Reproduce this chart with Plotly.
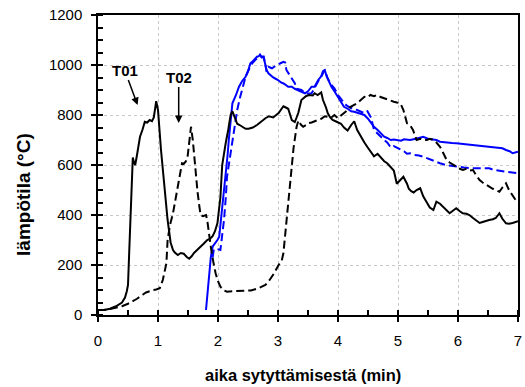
import plotly.graph_objects as go

# ---- data ----
t01_t = [0, 0.1, 0.2, 0.3, 0.4, 0.45, 0.48, 0.5, 0.52, 0.55, 0.58, 0.6, 0.62, 0.65, 0.7, 0.74, 0.78, 0.82, 0.86, 0.9,
         0.93, 0.97, 1.0, 1.05, 1.11, 1.16, 1.21, 1.25, 1.28, 1.33, 1.38, 1.43, 1.48, 1.52, 1.56, 1.6, 1.66, 1.71, 1.76,
         1.82, 1.87, 1.91, 1.95, 1.99, 2.02, 2.04, 2.07, 2.1, 2.13, 2.17, 2.21, 2.24, 2.28, 2.32, 2.36, 2.41, 2.46, 2.51,
         2.58, 2.65, 2.72, 2.79, 2.85, 2.92, 3.01, 3.05, 3.09, 3.13, 3.17, 3.23, 3.28, 3.31, 3.34, 3.39, 3.43, 3.47, 3.52,
         3.58, 3.61, 3.66, 3.72, 3.75, 3.8, 3.83, 3.87, 3.91, 3.96, 4.05, 4.1, 4.16, 4.22, 4.27, 4.32, 4.38, 4.44, 4.49,
         4.55, 4.6, 4.66, 4.71, 4.77, 4.82, 4.88, 4.93, 4.98, 5.04, 5.09, 5.15, 5.18, 5.22, 5.26, 5.31, 5.37, 5.42, 5.48,
         5.53, 5.59, 5.64, 5.7, 5.75, 5.8, 5.86, 5.92, 5.97, 6.03, 6.08, 6.14, 6.19, 6.25, 6.3, 6.36, 6.41, 6.47, 6.52,
         6.58, 6.63, 6.69, 6.74, 6.8, 6.85, 6.91, 6.96, 7.0]
t01_T = [20, 20, 25, 35, 50, 70, 95, 120, 250, 480, 630, 610, 600, 640, 713, 740, 773, 770, 780, 775,
         790, 855, 820, 660, 500, 380, 290, 260, 250, 240, 248, 245, 232, 225, 235, 248, 262, 272, 285,
         300, 305, 315, 335, 367, 420, 470, 600, 650, 690, 740, 800, 815, 790, 765, 760, 752, 745, 745,
         750, 760, 775, 787, 795, 790, 808, 820, 835, 830, 825, 780, 772, 790, 810, 860, 870, 876, 880,
         878, 887, 880, 890, 860, 830, 807, 790, 780, 775, 765, 750, 738, 760, 775, 740, 712, 690, 672,
         650, 635, 645, 630, 615, 607, 590, 578, 525, 540, 553, 525, 505, 495, 490, 500, 507, 475, 447,
         430, 420, 453, 445, 433, 420, 407, 418, 427, 415, 407, 405, 400, 388, 378, 368, 372, 378, 380,
         383, 388, 407, 385, 367, 365, 368, 372, 375]

t02_t = [0, 0.1, 0.2, 0.3, 0.4, 0.5, 0.55, 0.6, 0.65, 0.7, 0.75, 0.8, 0.85, 0.92, 0.97, 1.03, 1.08, 1.11, 1.14, 1.16,
         1.2, 1.25, 1.29, 1.33, 1.37, 1.4, 1.43, 1.46, 1.49, 1.52, 1.55, 1.58, 1.61, 1.63, 1.66, 1.69, 1.71, 1.75,
         1.8, 1.82, 1.85, 1.88, 1.92, 1.96, 2.0, 2.04, 2.1, 2.15, 2.25, 2.35, 2.45, 2.55, 2.65, 2.72, 2.79, 2.86,
         2.93, 3.01, 3.06, 3.09, 3.12, 3.14, 3.18, 3.22, 3.26, 3.31, 3.34, 3.38, 3.42, 3.47, 3.5, 3.56, 3.61, 3.67,
         3.72, 3.78, 3.83, 3.89, 3.94, 4.0, 4.05, 4.1, 4.16, 4.21, 4.27, 4.32, 4.38, 4.44, 4.49, 4.54, 4.6, 4.65,
         4.71, 4.77, 4.82, 4.88, 4.93, 4.98, 5.04, 5.09, 5.12, 5.15, 5.2, 5.25, 5.31, 5.37, 5.42, 5.48, 5.53, 5.59,
         5.64, 5.7, 5.75, 5.81, 5.86, 5.92, 5.97, 6.03, 6.08, 6.14, 6.2, 6.25, 6.3, 6.36, 6.41, 6.47, 6.52, 6.58,
         6.63, 6.69, 6.74, 6.8, 6.85, 6.9, 6.96, 7.0]
t02_T = [20, 20, 24, 30, 35, 45, 50, 58, 65, 75, 82, 90, 95, 100, 102, 107, 140, 170, 207, 300,
         360, 407, 460, 513, 560, 607, 605, 613, 627, 690, 753, 700, 620, 553, 490, 433, 400, 395,
         400, 380, 320, 273, 215, 167, 135, 113, 98, 93, 95, 95, 97, 98, 105, 112, 120, 140,
         165, 200, 215, 247, 320, 380, 480, 580, 670, 753, 778, 762, 753, 760, 767, 770, 775, 780,
         785, 795, 793, 790, 800, 787, 798, 807, 820, 833, 840, 847, 860, 873, 870, 880, 875, 880,
         872, 867, 860, 858, 853, 850, 847, 820, 787, 767, 760, 740, 700, 705, 700, 700, 705, 700,
         690, 673, 650, 620, 610, 600, 595, 585, 580, 585, 578, 580, 560, 540, 530, 520, 513, 505,
         500, 493, 510, 527, 500, 480, 460, 450]

b1_t = [1.8, 1.83, 1.85, 1.88, 1.91, 1.95, 1.99, 2.02, 2.05, 2.07, 2.1, 2.13, 2.16, 2.18, 2.22, 2.24, 2.3, 2.35, 2.4,
        2.46, 2.5, 2.54, 2.58, 2.62, 2.65, 2.68, 2.7, 2.73, 2.76, 2.79, 2.81, 2.84, 2.87, 2.92, 2.96, 3.0, 3.05, 3.1,
        3.17, 3.23, 3.28, 3.34, 3.39, 3.45, 3.5, 3.56, 3.61, 3.67, 3.72, 3.75, 3.78, 3.81, 3.85, 3.89, 3.94, 4.0,
        4.05, 4.1, 4.16, 4.22, 4.27, 4.33, 4.39, 4.44, 4.5, 4.55, 4.6, 4.66, 4.72, 4.77, 4.82, 4.88, 4.93, 4.98,
        5.05, 5.1, 5.15, 5.2, 5.3, 5.36, 5.42, 5.5, 5.57, 5.64, 5.7, 5.8, 5.9, 5.97, 6.05, 6.15, 6.25, 6.35, 6.45,
        6.52, 6.6, 6.68, 6.74, 6.8, 6.86, 6.91, 6.96, 7.0]
b1_T = [20, 100, 167, 230, 273, 285, 300, 313, 380, 433, 500, 567, 640, 700, 793, 847, 880, 913, 935,
        953, 975, 1007, 1015, 1025, 1033, 1035, 1042, 1030, 1033, 1000, 980, 967, 960, 950, 945, 940, 930, 925,
        913, 913, 905, 900, 893, 887, 895, 913, 913, 940, 955, 975, 980, 955, 930, 913, 895, 873,
        850, 833, 825, 815, 813, 808, 805, 800, 785, 770, 753, 740, 725, 713, 708, 700, 702, 700,
        697, 703, 700, 700, 705, 710, 713, 705, 702, 700, 693, 692, 688, 687, 685, 682, 680, 677, 675,
        673, 670, 668, 667, 660, 655, 647, 650, 653]

b2_t = [1.91, 1.93, 1.97, 2.0, 2.04, 2.07, 2.1, 2.13, 2.15, 2.18, 2.21, 2.26, 2.32, 2.37, 2.42, 2.46, 2.52, 2.57,
        2.62, 2.68, 2.72, 2.76, 2.79, 2.81, 2.84, 2.9, 2.95, 3.0, 3.05, 3.09, 3.12, 3.14, 3.18, 3.23, 3.28, 3.31,
        3.39, 3.45, 3.5, 3.56, 3.61, 3.67, 3.72, 3.78, 3.83, 3.89, 3.94, 4.0, 4.05, 4.1, 4.16, 4.22, 4.27, 4.32,
        4.38, 4.44, 4.49, 4.55, 4.6, 4.66, 4.72, 4.77, 4.82, 4.88, 4.93, 4.98, 5.05, 5.1, 5.15, 5.2, 5.27, 5.35,
        5.42, 5.5, 5.6, 5.7, 5.8, 5.9, 5.97, 6.1, 6.25, 6.4, 6.52, 6.6, 6.7, 6.8, 6.9, 7.0]
b2_T = [230, 262, 265, 262, 260, 320, 380, 470, 553, 600, 647, 740, 820, 873, 915, 953, 985, 1007,
        1020, 1033, 1035, 1033, 1000, 973, 993, 987, 995, 1003, 1008, 1013, 1010, 980, 965, 947, 927, 905,
        900, 887, 885, 887, 910, 935, 953, 980, 945, 920, 907, 880, 865, 847, 835, 828, 822, 820,
        812, 807, 815, 790, 740, 725, 710, 700, 690, 670, 676, 670, 660, 655, 645, 647, 640, 638,
        633, 625, 615, 607, 600, 596, 593, 590, 587, 588, 587, 580, 576, 573, 570, 567]

x_ticks = [0, 1, 2, 3, 4, 5, 6, 7]
y_ticks = [0, 200, 400, 600, 800, 1000, 1200]
x_title = "aika sytyttämisestä (min)"
y_title = "lämpötila (°C)"

FONT = "Liberation Sans, Arial, sans-serif"

fig = go.Figure()
fig.add_trace(go.Scatter(x=b2_t, y=b2_T, mode="lines", line=dict(color="#0000ff", width=2, dash="8px,4px"),
                         showlegend=False))
fig.add_trace(go.Scatter(x=b1_t, y=b1_T, mode="lines", line=dict(color="#0000ff", width=2), showlegend=False))
fig.add_trace(go.Scatter(x=t02_t, y=t02_T, mode="lines", line=dict(color="#000000", width=2, dash="8px,4px"),
                         showlegend=False))
fig.add_trace(go.Scatter(x=t01_t, y=t01_T, mode="lines", line=dict(color="#000000", width=2), showlegend=False))

fig.update_layout(
    width=525, height=387,
    margin=dict(l=98, r=3, t=15, b=72),
    paper_bgcolor="white", plot_bgcolor="white",
    font=dict(family=FONT, size=15, color="#000"),
)
fig.update_xaxes(
    range=[0, 7], tickvals=x_ticks, ticktext=[str(v) for v in x_ticks],
    showline=True, linecolor="#000", linewidth=1.5, mirror=True,
    ticks="outside", ticklen=5, tickwidth=1.5, tickcolor="#000",
    minor=dict(dtick=0.5, tick0=0, ticks="inside", ticklen=5, tickwidth=1.5, tickcolor="#000", showgrid=False),
    showgrid=True, gridcolor="#c8c8c8", griddash="dot", gridwidth=1,
    zeroline=False, ticklabelstandoff=6,
    tickfont=dict(family=FONT, size=15, color="#000"),
)
fig.update_yaxes(
    range=[0, 1200], tickvals=y_ticks, ticktext=[str(v) for v in y_ticks],
    showline=True, linecolor="#000", linewidth=1.5, mirror=True,
    ticks="outside", ticklen=5, tickwidth=1.5, tickcolor="#000",
    minor=dict(dtick=50, tick0=0, ticks="inside", ticklen=5, tickwidth=1.5, tickcolor="#000", showgrid=False),
    showgrid=True, gridcolor="#c8c8c8", griddash="dot", gridwidth=1,
    zeroline=False, ticklabelstandoff=6,
    tickfont=dict(family=FONT, size=15, color="#000"),
)

fig.add_annotation(x=0.489, y=-0.2, xref="paper", yref="paper", text="<b>" + x_title + "</b>",
                   showarrow=False, font=dict(family=FONT, size=16.5, color="#000"),
                   xanchor="center", yanchor="middle")
fig.add_annotation(x=-0.179, y=0.403, xref="paper", yref="paper", text="<b>" + y_title + "</b>",
                   showarrow=False, textangle=-90, font=dict(family=FONT, size=19, color="#000"),
                   xanchor="center", yanchor="middle")

fig.add_annotation(x=0.66, y=840, xref="x", yref="y", text="<b>T01</b>", showarrow=True,
                   ax=-13, ay=-35, arrowhead=2, arrowsize=1, arrowwidth=1.5, arrowcolor="#000",
                   font=dict(family=FONT, size=15, color="#000"))
fig.add_annotation(x=1.345, y=768, xref="x", yref="y", text="<b>T02</b>", showarrow=True,
                   ax=0, ay=-46, arrowhead=2, arrowsize=1, arrowwidth=1.5, arrowcolor="#000",
                   font=dict(family=FONT, size=15, color="#000"))

fig.write_html("out.html")
